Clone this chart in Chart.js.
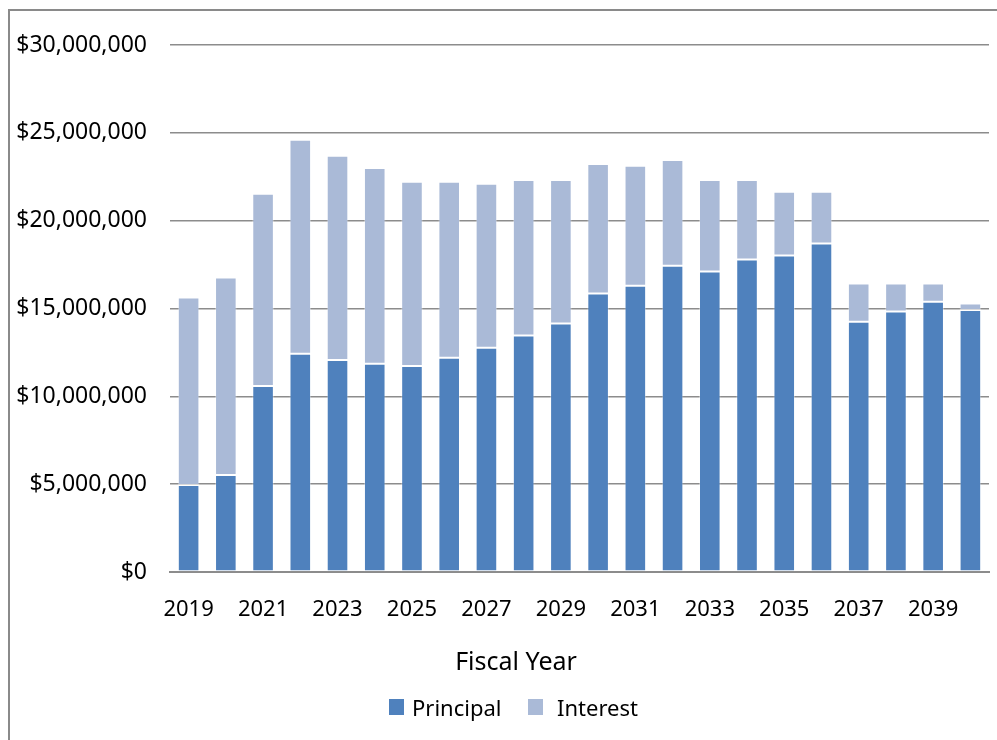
<!DOCTYPE html>
<html>
<head>
<meta charset="utf-8">
<script src="https://cdn.jsdelivr.net/npm/chart.js@4.4.0/dist/chart.umd.min.js"></script>
<style>
    html, body { margin:0; padding:0; background:#fff; }
    #wrap { position:relative; width:997px; height:740px; }
</style>
</head>
<body>
<div id="wrap"><canvas id="debtChart" width="997" height="740"></canvas></div>
<script>
// 연도별 원금 / 이자 (단위: 백만 달러)
const years = ['2019','2020','2021','2022','2023','2024','2025','2026','2027','2028','2029',
               '2030','2031','2032','2033','2034','2035','2036','2037','2038','2039','2040'];
const principal = [4.95, 5.52, 10.59, 12.43, 12.07, 11.85, 11.73, 12.19, 12.76, 13.46, 14.14,
                   15.85, 16.30, 17.44, 17.10, 17.79, 18.01, 18.70, 14.25, 14.83, 15.39, 14.92];
const interest = [10.67, 11.24, 10.94, 12.17, 11.62, 11.15, 10.48, 10.02, 9.34, 8.86, 8.18,
                  7.38, 6.82, 6.02, 5.22, 4.53, 3.63, 2.94, 2.17, 1.59, 1.03, 0.36];
const yTicks = [0, 5, 10, 15, 20, 25, 30];

const FONT = "'Noto Sans', 'Open Sans', sans-serif";
const GRID = '#8c8c8c';

const toDollar = function(m) {
    return '$' + Math.round(m * 1000000).toLocaleString('en-US');
};

// 테두리 + 축 제목 + 범례 직접 그리기
const framePlugin = {
    id: 'frame',
    beforeDraw: function(chart) {
        const ctx = chart.ctx;
        ctx.save();
        ctx.strokeStyle = '#8a8a8a';
        ctx.lineWidth = 2;
        ctx.strokeRect(9, 10, 1100, 1000);
        ctx.restore();
    },
    afterDraw: function(chart) {
        const ctx = chart.ctx;
        ctx.save();
        ctx.fillStyle = '#000';
        ctx.font = "25px " + FONT;
        ctx.textAlign = 'center';
        ctx.textBaseline = 'middle';
        ctx.fillText('Fiscal Year', 516, 663);

        // 범례
        const items = [{x:389, tx:412}, {x:528, tx:557}];
        ctx.font = "22px " + FONT;
        ctx.textAlign = 'left';
        chart.data.datasets.forEach(function(ds, i) {
            ctx.fillStyle = ds.backgroundColor;
            ctx.fillRect(items[i].x, 699, 15, 16);
            ctx.fillStyle = '#000';
            ctx.fillText(ds.label, items[i].tx, 710);
        });
        ctx.restore();
    }
};

new Chart(document.getElementById('debtChart'), {
    type: 'bar',
    data: {
        labels: years,
        datasets: [
            { label:'Principal', data:principal, backgroundColor:'#4f81bd',
              borderColor:'rgba(255,255,255,0.35)', borderWidth:1, borderSkipped:false },
            { label:'Interest', data:interest, backgroundColor:'#aabad7',
              borderColor:'rgba(255,255,255,0.35)', borderWidth:1, borderSkipped:false }
        ]
    },
    options: {
        responsive: false,
        animation: { duration: 0 },
        layout: { padding: { left:0, right:8, top:45, bottom:0 } },
        datasets: { bar: { categoryPercentage: 1, barPercentage: 0.58 } },
        scales: {
            x: {
                stacked: true,
                grid: { display:false, drawTicks:false },
                border: { color:GRID, width:2 },
                ticks: {
                    autoSkip: false,
                    maxRotation: 0,
                    padding: 25,
                    color: '#000',
                    font: { family:FONT, size:22 },
                    callback: function(v, i) { return i % 2 === 0 ? years[i] : ''; }
                },
                afterFit: function(scale) { scale.height = 740 - 572; }
            },
            y: {
                stacked: true,
                min: 0,
                max: 30,
                afterBuildTicks: function(scale) {
                    scale.ticks = yTicks.map(function(v) { return {value:v}; });
                },
                grid: { color:GRID, lineWidth:1.6, drawTicks:false },
                border: { display:false },
                ticks: {
                    padding: 23,
                    color: '#000',
                    font: { family:FONT, size:23 },
                    callback: function(v) { return toDollar(v); }
                },
                afterFit: function(scale) { scale.width = 170; }
            }
        },
        plugins: {
            legend: { display:false },
            tooltip: { enabled:false }
        }
    },
    plugins: [framePlugin]
});
</script>
</body>
</html>
